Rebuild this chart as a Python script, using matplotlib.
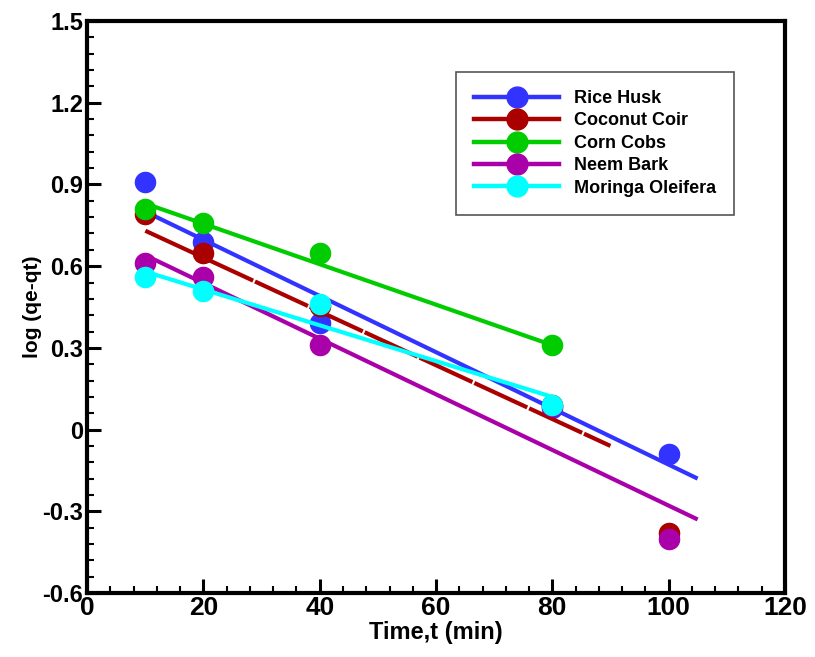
import matplotlib
matplotlib.use("Agg")
import matplotlib.pyplot as plt
from matplotlib.ticker import MultipleLocator

plt.rcParams['font.family'] = ['Liberation Sans', 'DejaVu Sans']
plt.rcParams['font.weight'] = 'bold'

time = [10, 20, 40, 80, 100]
rice_husk = [0.91, 0.69, 0.39, 0.08, -0.09]
coconut_coir = [0.79, 0.65, 0.455, 0.09, -0.38]
corn_t = [10, 20, 40, 80]
corn_cobs = [0.81, 0.76, 0.65, 0.31]
neem_bark = [0.61, 0.56, 0.31, 0.085, -0.40]
moringa_t = [10, 20, 40, 80]
moringa = [0.56, 0.51, 0.46, 0.09]

# fitted lines, end points
rice_fit_t = [10, 105]
rice_fit = [0.80, -0.18]
coconut_fit_t = [10, 90]
coconut_fit = [0.73, -0.06]
corn_fit_t = [10, 80]
corn_fit = [0.83, 0.31]
neem_fit_t = [10, 105]
neem_fit = [0.64, -0.33]
moringa_fit_t = [10, 80]
moringa_fit = [0.58, 0.12]

series = [
    ('Rice Husk', '#3333ff', time, rice_husk, rice_fit_t, rice_fit, '-'),
    ('Coconut Coir', '#aa0000', time, coconut_coir, coconut_fit_t, coconut_fit, (0, (14, 0.5))),
    ('Corn Cobs', '#00cc00', corn_t, corn_cobs, corn_fit_t, corn_fit, '-'),
    ('Neem Bark', '#aa00aa', time, neem_bark, neem_fit_t, neem_fit, '-'),
    ('Moringa Oleifera', '#00ffff', moringa_t, moringa, moringa_fit_t, moringa_fit, '-'),
]

fig = plt.figure(figsize=(8.15, 6.57), dpi=100)
ax = fig.add_axes([0.107, 0.0974, 0.856, 0.8706])

handles = []
for name, col, tx, ty, fx, fy, ls in series:
    ax.plot(fx, fy, color=col, lw=3, ls=ls, solid_capstyle='butt', dash_capstyle='butt')
    ax.plot(tx, ty, 'o', color=col, ms=14.5, mec=col)
    h, = ax.plot([], [], '-o', color=col, lw=3.2, ms=15, label=name)
    handles.append(h)

ax.set_xlim(0, 120)
ax.set_ylim(-0.6, 1.5)
ax.xaxis.set_major_locator(MultipleLocator(20))
ax.xaxis.set_minor_locator(MultipleLocator(4))
ax.yaxis.set_minor_locator(MultipleLocator(0.06))
ax.set_yticks([-0.6, -0.3, 0, 0.3, 0.6, 0.9, 1.2, 1.5])
ax.set_yticklabels(['-0.6', '-0.3', '0', '0.3', '0.6', '0.9', '1.2', '1.5'])

for s in ax.spines.values():
    s.set_linewidth(3)
ax.tick_params(which='both', direction='in', top=False, right=False, width=1.5)
ax.tick_params(which='major', length=10, width=2.2)
ax.tick_params(which='minor', length=5)
ax.tick_params(axis='y', labelsize=17, pad=3)
ax.tick_params(axis='x', labelsize=19, pad=2)
for lab in ax.get_xticklabels():
    lab.set_family(['Liberation Sans Narrow', 'Liberation Sans'])
    lab.set_fontweight('bold')
for lab in ax.get_yticklabels():
    lab.set_fontweight('bold')

ax.set_xlabel('Time,t (min)', fontsize=17, fontweight='bold',
              family=['Liberation Sans Narrow', 'Liberation Sans'], labelpad=1)
ax.set_ylabel('log (qe-qt)', fontsize=15, fontweight='bold', labelpad=0)

leg = ax.legend(handles=handles, loc='upper left', bbox_to_anchor=(0.529, 0.911),
                borderaxespad=0, fancybox=False, framealpha=1, edgecolor='#555555',
                prop={'size': 13, 'weight': 'bold'}, handlelength=4.7,
                handletextpad=0.8, labelspacing=0.3, numpoints=1,
                borderpad=1.0)
leg.get_frame().set_linewidth(1.2)

fig.savefig('out.png', dpi=100)
